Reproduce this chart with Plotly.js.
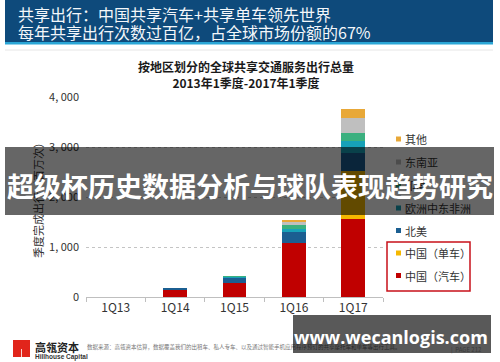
<!DOCTYPE html>
<html><head><meta charset="utf-8">
<script src="https://cdn.plot.ly/plotly-3.0.1.min.js"></script>
<style>html,body{margin:0;padding:0;background:#fff}#chart{width:500px;height:362px}</style>
</head><body><div id="chart"></div>
<script>
// ---- data (million trips per quarter) ----
const categories = ['1Q13', '1Q14', '1Q15', '1Q16', '1Q17'];
const chinaCar     = [5, 145, 280, 1090, 1560];
const chinaBike    = [0, 0, 0, 0, 960];
const northAmerica = [0, 40, 110, 215, 370];
const emea         = [0, 0, 15, 55, 240];
const india        = [0, 0, 10, 80, 160];
const seAsia       = [0, 0, 0, 60, 300];
const others       = [0, 0, 0, 40, 180];
const seriesNames  = ['中国（汽车）', '中国（单车）', '北美', '欧洲中东非洲', '印度', '东南亚', '其他'];
const seriesValues = [chinaCar, chinaBike, northAmerica, emea, india, seAsia, others];
const seriesColors = ['#c00000', '#f5b800', '#1b5e91', '#17a2b8', '#3bb07f', '#bfbfbf', '#e8a838'];
const yTickVals = [0, 1000, 2000, 3000, 4000];
const yTickText = ['0', '1, 000', '2, 000', '3, 000', '4, 000'];

const headerLine1 = '共享出行：中国共享汽车+共享单车领先世界';
const headerLine2 = '每年共享出行次数过百亿，占全球市场份额的67%';
const chartTitle1 = '按地区划分的全球共享交通服务出行总量';
const chartTitle2 = '2013年1季度-2017年1季度';
const yTitle = '季度完成出行（百万次）';
const bannerText = '超级杯历史数据分析与球队表现趋势研究';
const watermarkText = 'www.wecanlogis.com';
const sourceText = '数据来源：高瓴资本估算，数据覆盖我们的出租车、私人专车、以及通过智能手机应用程序预订的共享摩托车和单车等出行工具。';

// ---- layout geometry (pixels) ----
const W = 500, H = 362;
const M = {l: 86, r: 117, t: 97, b: 65};
const PW = W - M.l - M.r, PH = H - M.t - M.b;
const xp = px => (px - M.l) / PW;
const yp = py => (H - M.b - py) / PH;
const FONT = '"Noto Sans CJK SC", "Noto Sans", sans-serif';

const traces = seriesNames.map((name, i) => ({
  type: 'bar', name: name, x: categories, y: seriesValues[i],
  marker: {color: seriesColors[i], line: {width: 0}},
  showlegend: false, hoverinfo: 'x+y+name'
}));

const shapes = [];
const annotations = [];

// header band
shapes.push({type: 'rect', xref: 'paper', yref: 'paper', x0: xp(5), x1: xp(493), y0: yp(0), y1: yp(42),
  fillcolor: '#0e4a7b', line: {width: 0}, layer: 'above'});
shapes.push({type: 'rect', xref: 'paper', yref: 'paper', x0: xp(5), x1: xp(493), y0: yp(42), y1: yp(44.5),
  fillcolor: '#2aa6d6', line: {width: 0}, layer: 'above'});
shapes.push({type: 'line', xref: 'paper', yref: 'paper', x0: xp(5), x1: xp(493), y0: yp(50), y1: yp(50),
  line: {color: '#e6e6e6', width: 1}, layer: 'above'});
annotations.push({xref: 'paper', yref: 'paper', x: xp(16), y: yp(13.5), xanchor: 'left', yanchor: 'middle',
  text: headerLine1, showarrow: false, font: {family: FONT, size: 16, color: '#f4f7fa'}});
annotations.push({xref: 'paper', yref: 'paper', x: xp(16), y: yp(32), xanchor: 'left', yanchor: 'middle',
  text: headerLine2, showarrow: false, font: {family: FONT, size: 16, color: '#f4f7fa'}});

// y axis title
annotations.push({xref: 'paper', yref: 'paper', x: xp(38), y: yp(197), xanchor: 'center', yanchor: 'middle',
  text: yTitle, textangle: -90, showarrow: false, font: {family: FONT, size: 11, color: '#333'}});

// legend (top to bottom)
const legendOrder = [6, 5, 4, 3, 2, 1, 0];
const legendY = [139, 162, 185, 208, 230.5, 253, 275.5];
legendOrder.forEach((si, k) => {
  const cy = legendY[k];
  shapes.push({type: 'rect', xref: 'paper', yref: 'paper', x0: xp(396), x1: xp(401), y0: yp(cy + 2.5), y1: yp(cy - 2.5),
    fillcolor: seriesColors[si], line: {width: 0}, layer: 'above'});
  annotations.push({xref: 'paper', yref: 'paper', x: xp(403), y: yp(cy), xanchor: 'left', yanchor: 'middle',
    text: seriesNames[si], showarrow: false, font: {family: FONT, size: 11, color: '#333'}});
});
shapes.push({type: 'rect', xref: 'paper', yref: 'paper', x0: xp(387), x1: xp(470), y0: yp(291), y1: yp(242),
  fillcolor: 'rgba(0,0,0,0)', line: {color: '#c8101a', width: 1.5}, layer: 'above'});

// footer
shapes.push({type: 'rect', xref: 'paper', yref: 'paper', x0: xp(13), x1: xp(30), y0: yp(357), y1: yp(340),
  fillcolor: '#e1251b', line: {width: 0}, layer: 'above'});
shapes.push({type: 'line', xref: 'paper', yref: 'paper', x0: xp(21.5), x1: xp(21.5), y0: yp(357), y1: yp(349),
  line: {color: '#ffffff', width: 0.8}, layer: 'above'});
annotations.push({xref: 'paper', yref: 'paper', x: xp(33), y: yp(347), xanchor: 'left', yanchor: 'middle',
  text: '<b>高瓴资本</b>', showarrow: false, font: {family: FONT, size: 11, color: '#222'}});
annotations.push({xref: 'paper', yref: 'paper', x: xp(33), y: yp(356.5), xanchor: 'left', yanchor: 'middle',
  text: '<b>Hillhouse Capital</b>', showarrow: false, font: {family: '"Liberation Sans", Arial, sans-serif', size: 6.5, color: '#333'}});
annotations.push({xref: 'paper', yref: 'paper', x: xp(85), y: yp(347), xanchor: 'left', yanchor: 'middle',
  text: sourceText, showarrow: false, font: {family: FONT, size: 5.5, color: '#777'}});
annotations.push({xref: 'paper', yref: 'paper', x: xp(449), y: yp(349), xanchor: 'left', yanchor: 'middle',
  text: '|  PAGE 212', showarrow: false, font: {family: FONT, size: 6, color: '#aaa'}});

// overlay banner
annotations.push({xref: 'paper', yref: 'paper', x: xp(249.5), y: yp(181), xanchor: 'center', yanchor: 'middle',
  text: ' ', width: 489, height: 68, borderpad: 0, borderwidth: 0, bgcolor: 'rgba(0,0,0,0.6)', showarrow: false,
  font: {family: FONT, size: 10, color: '#fff'}});
annotations.push({xref: 'paper', yref: 'paper', x: xp(250), y: yp(185), xanchor: 'center', yanchor: 'middle',
  text: '<b>' + bannerText + '</b>', showarrow: false, font: {family: FONT, size: 27, color: '#ffffff'}});

// watermark
annotations.push({xref: 'paper', yref: 'paper', x: xp(392), y: yp(334), xanchor: 'center', yanchor: 'middle',
  text: ' ', width: 198, height: 38, borderpad: 0, borderwidth: 0, bgcolor: 'rgba(0,0,0,0.65)', showarrow: false,
  font: {family: FONT, size: 10, color: '#fff'}});
annotations.push({xref: 'paper', yref: 'paper', x: xp(391), y: yp(336.5), xanchor: 'center', yanchor: 'middle',
  text: '<b>' + watermarkText + '</b>', showarrow: false, font: {family: '"Open Sans", "Noto Sans", sans-serif', size: 18, color: '#ffffff'}});

const layout = {
  width: W, height: H,
  margin: M,
  paper_bgcolor: '#ffffff', plot_bgcolor: '#ffffff',
  font: {family: FONT, color: '#333'},
  barmode: 'stack', bargap: 0.6,
  title: {text: '<b>' + chartTitle1 + '</b><br><b>' + chartTitle2 + '</b>', x: 246 / W, xanchor: 'center',
    y: 1 - 72 / H, yanchor: 'middle', font: {family: FONT, size: 12, color: '#1a1a1a'}},
  xaxis: {type: 'category', range: [-0.5, 4.5], showline: true, linecolor: '#bfbfbf', linewidth: 1,
    ticks: 'outside', tickson: 'boundaries', ticklen: 4, tickcolor: '#bfbfbf', showgrid: false,
    tickfont: {family: FONT, size: 12, color: '#333'}, fixedrange: true},
  yaxis: {range: [0, 4000], tickvals: yTickVals, ticktext: yTickText, showgrid: true, gridcolor: '#c4c4c4',
    griddash: 'dot', gridwidth: 1, zeroline: false, showline: false, ticks: '', ticklabelstandoff: 6,
    tickfont: {family: FONT, size: 11, color: '#333'}, fixedrange: true},
  shapes: shapes,
  annotations: annotations
};

Plotly.newPlot('chart', traces, layout, {displayModeBar: false, staticPlot: true});
</script>
</body></html>
